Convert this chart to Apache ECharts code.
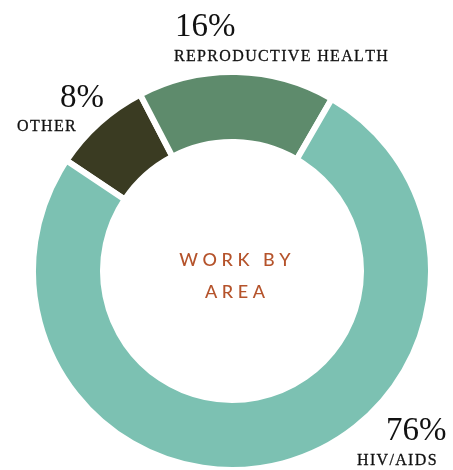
<!DOCTYPE html>
<html>
<head>
<meta charset="utf-8">
<script src="https://cdn.jsdelivr.net/npm/echarts@6/dist/echarts.min.js"></script>
<style>
  html, body { margin: 0; padding: 0; background: #fff; }
  #main { width: 453px; height: 470px; }
</style>
</head>
<body>
<div id="main"></div>
<script>
// work split, clockwise from the top-left gap
const areas = ['OTHER', 'REPRODUCTIVE HEALTH', 'HIV/AIDS']
const shares = [8, 16, 76]
const colors = ['#3a3b22', '#5e8b6c', '#7cc1b2']
const centerTitle = ['WORK BY', 'AREA']

// echarts text has no letter-spacing, so pad the letters
const spaced = (s, gap) => s.split('').join(gap)

const serif = '"Liberation Serif", "DejaVu Serif", serif'
const labelPos = [
  { x: 60, y: 98, lx: 17, ly: 127 },
  { x: 175, y: 27, lx: 174, ly: 57 },
  { x: 386, y: 431, lx: 357, ly: 461 }
]

const texts = []
areas.forEach((name, i) => {
  const p = labelPos[i]
  texts.push({
    type: 'text',
    style: { text: shares[i] + '%', x: p.x, y: p.y, font: '400 33px ' + serif, fill: '#111', verticalAlign: 'middle' }
  })
  texts.push({
    type: 'text',
    style: {
      text: spaced(name, '\u200A'), x: p.lx, y: p.ly, font: '400 16px ' + serif,
      fill: '#111', stroke: '#111', lineWidth: 0.3, verticalAlign: 'middle'
    }
  })
})
centerTitle.forEach((t, i) => {
  texts.push({
    type: 'text',
    style: {
      text: spaced(t, ' '), x: 235, y: 260 + i * 32,
      font: '500 18px Lato, "Open Sans", sans-serif', fill: '#b5532b',
      align: 'center', verticalAlign: 'middle'
    }
  })
})

const chart = echarts.init(document.getElementById('main'), null, { renderer: 'canvas' })
chart.setOption({
  animation: false,
  series: [{
    type: 'pie',
    center: [232, 271],
    radius: [129, 199],
    startAngle: 146.3,
    clockwise: true,
    silent: true,
    label: { show: false },
    labelLine: { show: false },
    itemStyle: { borderColor: '#fff', borderWidth: 6 },
    data: areas.map((name, i) => ({ name, value: shares[i], itemStyle: { color: colors[i] } }))
  }],
  graphic: texts
})
</script>
</body>
</html>
